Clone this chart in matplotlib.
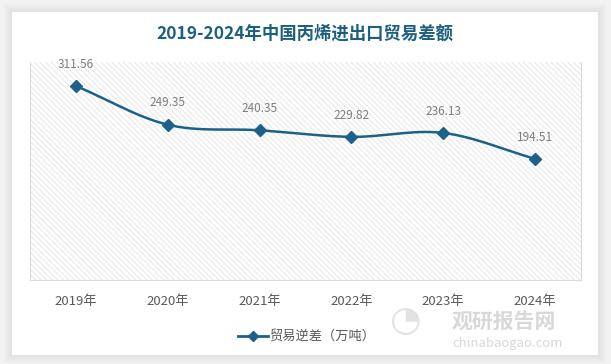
import numpy as np
import matplotlib
matplotlib.use("Agg")
import matplotlib.pyplot as plt
from matplotlib.patches import Rectangle

plt.rcParams['font.family'] = ['Noto Sans CJK SC', 'DejaVu Sans']
plt.rcParams['hatch.linewidth'] = 0.5

years = ['2019年', '2020年', '2021年', '2022年', '2023年', '2024年']
deficit = [311.56, 249.35, 240.35, 229.82, 236.13, 194.51]
title = '2019-2024年中国丙烯进出口贸易差额'
series_name = '贸易逆差（万吨）'

LINE = '#1b6189'
W, H = 611, 364


def catmull_rom(x, y, n=30):
    # Excel-style smoothing through the points
    x = np.asarray(x, float)
    y = np.asarray(y, float)
    px = np.concatenate([[2 * x[0] - x[1]], x, [2 * x[-1] - x[-2]]])
    py = np.concatenate([[2 * y[0] - y[1]], y, [2 * y[-1] - y[-2]]])
    xs, ys = [], []
    t = np.linspace(0, 1, n)
    for i in range(1, len(px) - 2):
        for p, out in ((px, xs), (py, ys)):
            p0, p1, p2, p3 = p[i - 1], p[i], p[i + 1], p[i + 2]
            out.extend(0.5 * ((2 * p1) + (-p0 + p2) * t
                              + (2 * p0 - 5 * p1 + 4 * p2 - p3) * t ** 2
                              + (-p0 + 3 * p1 - 3 * p2 + p3) * t ** 3))
    return np.array(xs), np.array(ys)


fig = plt.figure(figsize=(W / 100, H / 100), dpi=100)
fig.patch.set_facecolor('#f2f2f2')

# card with soft shadow
for k, a in enumerate([0.05, 0.05, 0.06, 0.07]):
    off = (4 - k) * 2
    fig.patches.append(Rectangle(((12 - off) / W, (9 - off) / H),
                                 (586 + 2 * off) / W, (343 + 2 * off) / H,
                                 transform=fig.transFigure, facecolor='#b0b0b0',
                                 alpha=a, edgecolor='none', zorder=-10))
fig.patches.append(Rectangle((12 / W, 9 / H), 586 / W, 343 / H,
                             transform=fig.transFigure, facecolor='white',
                             edgecolor='none', zorder=-5))

fig.text(305 / W, 1 - 34 / H, title, ha='center', va='center', fontsize=12.5,
         fontweight='bold', color='#1d5f80')

ax = fig.add_axes([30 / W, 1 - 280 / H, 551 / W, 218 / H])
ax.set_facecolor('white')
ax.add_patch(Rectangle((0, 0), 1, 1, transform=ax.transAxes, facecolor='white',
                       hatch='\\\\\\\\\\\\', edgecolor='#dedede', linewidth=0,
                       zorder=0))

x = np.arange(len(years))
sx, sy = catmull_rom(x, deficit)
ax.plot(sx, sy, color=LINE, lw=1.8, zorder=3)
ax.plot(x, deficit, ls='none', marker='D', ms=6.5, color=LINE, zorder=4)

for xi, v in zip(x, deficit):
    ax.annotate(f'{v:.2f}', (xi, v), xytext=(0, 11), textcoords='offset points',
                ha='center', va='bottom', fontsize=8.5, color='#7f7f7f')

ax.set_xlim(-0.5, len(years) - 0.5)
ax.set_ylim(0, 350)
ax.set_yticks([])
ax.set_xticks(x)
ax.set_xticklabels(years, fontsize=9.5, color='#595959')
ax.tick_params(axis='x', length=0, pad=11)
for s in ['left', 'right', 'bottom']:
    ax.spines[s].set_color('#d9d9d9')
    ax.spines[s].set_linewidth(0.8)
ax.spines['top'].set_visible(False)

# legend
ly = 1 - 336 / H
fig.add_artist(plt.Line2D([238 / W, 268 / W], [ly, ly], color=LINE, lw=2,
                          transform=fig.transFigure))
fig.add_artist(plt.Line2D([253 / W], [ly], marker='D', ms=5, color=LINE,
                          transform=fig.transFigure))
fig.text(269 / W, ly, series_name, ha='left', va='center', fontsize=9.5,
         color='#595959')

# watermark
fig.text(390 / W, 1 - 321 / H, '◔', fontsize=26, color='#d0d0d0', ha='left',
         va='center', alpha=0.6)
fig.text(452 / W, 1 - 321 / H, '观研报告网', fontsize=15, fontweight='bold',
         color='#c8c8c8', ha='left', va='center', alpha=0.7)
fig.text(452 / W, 1 - 343 / H, 'chinabaogao.com', fontsize=9.5,
         color='#c8c8c8', ha='left', va='center', alpha=0.7)

fig.savefig('out.png', dpi=100, facecolor=fig.get_facecolor())
